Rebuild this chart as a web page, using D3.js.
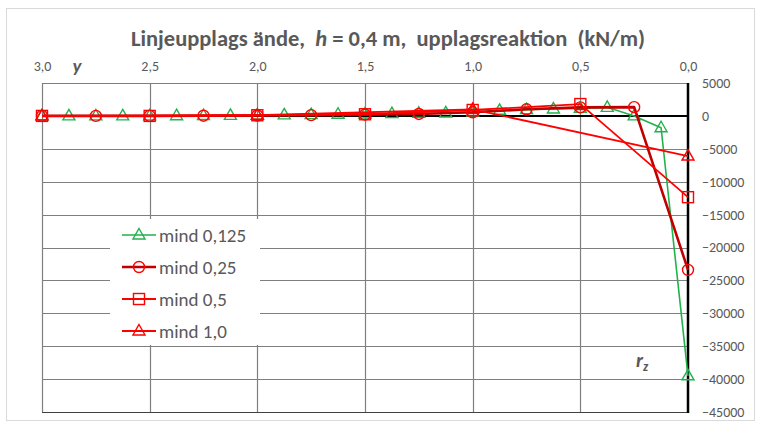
<!DOCTYPE html>
<html>
<head>
<meta charset="utf-8">
<script src="https://cdn.jsdelivr.net/npm/d3@7"></script>
<style>
  html, body { margin: 0; padding: 0; background: #fff; }
  svg { display: block; }
  text { font-family: Carlito, Calibri, Lato, "Open Sans", sans-serif; }
  .pre { white-space: pre; }
</style>
</head>
<body>
<svg id="chart" width="762" height="427"></svg>
<script>
// Support reaction along the line support end, y in metres (3,0 → 0,0)
const yTicks = [3.0, 2.5, 2.0, 1.5, 1.0, 0.5, 0.0];
const rTicks = [5000, 0, -5000, -10000, -15000, -20000, -25000, -30000, -35000, -40000, -45000];

// mesh size 0,125
const posMind0125 = [3.0, 2.875, 2.75, 2.625, 2.5, 2.375, 2.25, 2.125, 2.0, 1.875, 1.75, 1.625, 1.5,
                     1.375, 1.25, 1.125, 1.0, 0.875, 0.75, 0.625, 0.5, 0.375, 0.25, 0.125, 0.0];
const valMind0125 = [0, 0, 0, 0, 10, 30, 50, 80, 100, 150, 200, 250, 300,
                     350, 400, 450, 600, 850, 950, 1050, 1150, 1300, 0, -1800, -39500];
// mesh size 0,25
const posMind025 = [3.0, 2.75, 2.5, 2.25, 2.0, 1.75, 1.5, 1.25, 1.0, 0.75, 0.5, 0.25, 0.0];
const valMind025 = [0, 0, 0, 30, 60, 120, 200, 300, 550, 1000, 1300, 1330, -23400];
// mesh size 0,5
const posMind05 = [3.0, 2.5, 2.0, 1.5, 1.0, 0.5, 0.0];
const valMind05 = [0, 0, 100, 250, 900, 1800, -12350];
// mesh size 1,0
const posMind10 = [3.0, 2.0, 1.0, 0.0];
const valMind10 = [0, 100, 1000, -6100];

const seriesNames = ["mind 0,125", "mind 0,25", "mind 0,5", "mind 1,0"];

const series = [
  { name: seriesNames[0], xs: posMind0125, vs: valMind0125, line: "#22b14c", mark: "#22b14c", width: 1.6, shape: "triangle" },
  { name: seriesNames[1], xs: posMind025,  vs: valMind025,  line: "#c00000", mark: "#ff0000", width: 2.6, shape: "circle" },
  { name: seriesNames[2], xs: posMind05,   vs: valMind05,   line: "#ff0000", mark: "#ff0000", width: 1.8, shape: "square" },
  { name: seriesNames[3], xs: posMind10,   vs: valMind10,   line: "#ff0000", mark: "#ff0000", width: 1.8, shape: "triangle" }
];

const svg = d3.select("#chart");
const textCol = "#595959";

// chart frame
svg.append("rect").attr("x", 6.5).attr("y", 8.5).attr("width", 748).attr("height", 412)
  .attr("fill", "#fff").attr("stroke", "#d9d9d9").attr("stroke-width", 1);

const x = d3.scaleLinear().domain([3, 0]).range([42, 688]);
const y = d3.scaleLinear().domain([5000, -45000]).range([83, 412]);

// horizontal grid
svg.append("g").selectAll("line").data(rTicks.filter(v => v !== 0)).join("line")
  .attr("x1", x(3)).attr("x2", x(0))
  .attr("y1", d => Math.round(y(d)) + 0.5).attr("y2", d => Math.round(y(d)) + 0.5)
  .attr("stroke", d => d === -45000 ? "#404040" : "#7f7f7f").attr("stroke-width", 1.2);

// vertical grid
svg.append("g").selectAll("line").data(yTicks.filter(v => v !== 0)).join("line")
  .attr("x1", d => Math.round(x(d)) + 0.5).attr("x2", d => Math.round(x(d)) + 0.5)
  .attr("y1", y(5000)).attr("y2", y(-45000))
  .attr("stroke", "#7f7f7f").attr("stroke-width", 1.2);

// zero line and right axis
svg.append("line").attr("x1", x(3)).attr("x2", x(0)).attr("y1", y(0)).attr("y2", y(0))
  .attr("stroke", "#000").attr("stroke-width", 2);
svg.append("line").attr("x1", x(0)).attr("x2", x(0)).attr("y1", y(5000)).attr("y2", y(-45000) + 1)
  .attr("stroke", "#000").attr("stroke-width", 2.5);

// top axis labels
const topAxis = d3.axisTop(x).tickValues(yTicks).tickSize(0).tickPadding(0)
  .tickFormat(d => d3.format(".1f")(d).replace(".", ","));
const gTop = svg.append("g").attr("transform", "translate(0,71)").call(topAxis);
gTop.select(".domain").remove();
gTop.selectAll("text").attr("fill", textCol).attr("font-size", 14).style("font-family", null);

// right axis labels
const rightAxis = d3.axisRight(y).tickValues(rTicks).tickSize(0).tickPadding(0).tickFormat(d3.format("d"));
const gRight = svg.append("g").attr("transform", "translate(702,0)").call(rightAxis);
gRight.select(".domain").remove();
gRight.selectAll("text").attr("fill", textCol).attr("font-size", 14).style("font-family", null);

// title
const title = svg.append("text").attr("class", "pre").attr("x", 388).attr("y", 46).attr("text-anchor", "middle")
  .attr("fill", textCol).attr("font-size", 22.5).attr("font-weight", 600);
title.append("tspan").text("Linjeupplags ände,  ");
title.append("tspan").attr("font-style", "italic").text("h");
title.append("tspan").text(" = 0,4 m,  upplagsreaktion  (kN/m)");

// axis names
svg.append("text").attr("x", 77).attr("y", 72).attr("text-anchor", "middle")
  .attr("fill", textCol).attr("font-size", 19).attr("font-weight", "bold").attr("font-style", "italic").text("y");
const rz = svg.append("text").attr("x", 636).attr("y", 367)
  .attr("fill", textCol).attr("font-size", 20).attr("font-weight", "bold").attr("font-style", "italic");
rz.append("tspan").text("r");
rz.append("tspan").attr("font-size", 13).attr("dy", 4).text("z");

// marker drawing
function drawMarker(g, shape, color) {
  if (shape === "circle") {
    g.append("circle").attr("r", 5.5).attr("fill", "none").attr("stroke", color).attr("stroke-width", 1.4);
  } else if (shape === "square") {
    g.append("rect").attr("x", -5.5).attr("y", -5.5).attr("width", 11).attr("height", 11)
      .attr("fill", "none").attr("stroke", color).attr("stroke-width", 1.4);
  } else {
    g.append("path").attr("d", "M0,-6.5 L6,4 L-6,4 Z")
      .attr("fill", "none").attr("stroke", color).attr("stroke-width", 1.4);
  }
}

const line = d3.line().x(d => x(d[0])).y(d => y(d[1]));

series.forEach(s => {
  const pts = s.xs.map((p, i) => [p, s.vs[i]]);
  const g = svg.append("g");
  g.append("path").datum(pts).attr("d", line).attr("fill", "none")
    .attr("stroke", s.line).attr("stroke-width", s.width).attr("stroke-linejoin", "round");
  g.selectAll("g.m").data(pts).join("g").attr("class", "m")
    .attr("transform", d => `translate(${x(d[0])},${y(d[1])})`)
    .each(function () { drawMarker(d3.select(this), s.shape, s.mark); });
});

// legend
const lg = svg.append("g");
lg.append("rect").attr("x", 110).attr("y", 219).attr("width", 150).attr("height", 126).attr("fill", "#fff");
series.forEach((s, i) => {
  const cy = 235 + i * 32;
  const row = lg.append("g").attr("transform", `translate(0,${cy})`);
  row.append("line").attr("x1", 122).attr("x2", 156).attr("y1", 0).attr("y2", 0)
    .attr("stroke", s.line).attr("stroke-width", s.width);
  const m = row.append("g").attr("transform", "translate(139,0)");
  drawMarker(m, s.shape, s.mark);
  row.append("text").attr("x", 159).attr("y", 0).attr("dy", "0.35em")
    .attr("fill", textCol).attr("font-size", 19).text(s.name);
});
</script>
</body>
</html>
